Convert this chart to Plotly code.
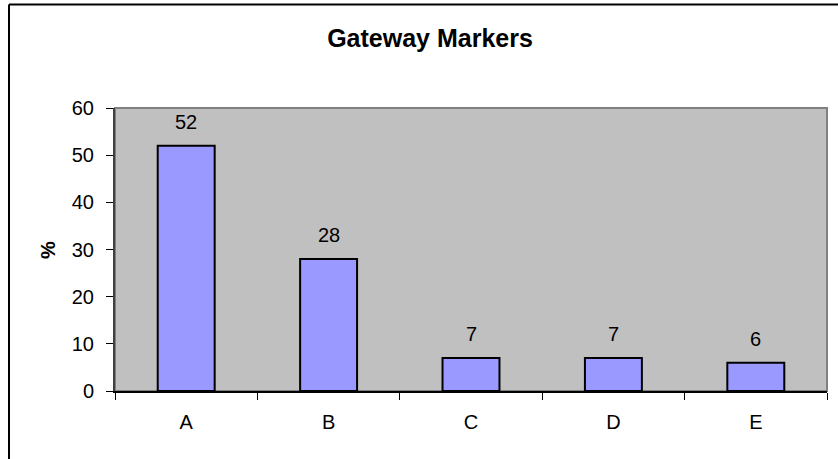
import plotly.graph_objects as go

categories = ["A", "B", "C", "D", "E"]
values = [52, 28, 7, 7, 6]
y_ticks = [0, 10, 20, 30, 40, 50, 60]

W, H = 838, 459
L, R, T, B = 115, 11, 108, 68
pw, ph = W - L - R, H - T - B

def px_x(px):
    return (px - L) / pw

def px_y(py):
    return (H - B - py) / ph

FONT = "Liberation Sans, Arial, sans-serif"

fig = go.Figure()
fig.add_trace(go.Bar(
    x=categories, y=values,
    marker=dict(color="#9999FF", line=dict(color="black", width=2)),
    hoverinfo="skip",
))

annotations = []
for c, v in zip(categories, values):
    annotations.append(dict(x=c, y=v, xref="x", yref="y", text=str(v),
                            showarrow=False, yanchor="bottom", yshift=11,
                            font=dict(family=FONT, size=20, color="black")))
annotations.append(dict(x=px_x(48), y=px_y(250), xref="paper", yref="paper",
                        text="<b>%</b>", textangle=-90, showarrow=False,
                        xanchor="center", yanchor="middle",
                        font=dict(family=FONT, size=20, color="black")))

shapes = [
    dict(type="rect", xref="paper", yref="paper", x0=0, y0=0, x1=1, y1=1,
         line=dict(color="#808080", width=2), layer="below"),
    dict(type="line", xref="paper", yref="paper", x0=px_x(9), x1=px_x(9),
         y0=px_y(4.5), y1=px_y(470), line=dict(color="black", width=2)),
    dict(type="line", xref="paper", yref="paper", x0=px_x(9), x1=px_x(850),
         y0=px_y(4.5), y1=px_y(4.5), line=dict(color="black", width=2)),
]

fig.update_layout(
    width=W, height=H,
    margin=dict(l=L, r=R, t=T, b=B, pad=0),
    paper_bgcolor="white",
    plot_bgcolor="#C0C0C0",
    showlegend=False,
    bargap=0.6,
    title=dict(text="<b>Gateway Markers</b>", x=430 / W, xanchor="center",
               y=1 - 38 / H, yanchor="middle", yref="container",
               font=dict(family=FONT, size=25, color="black")),
    font=dict(family=FONT, size=20, color="black"),
    annotations=annotations,
    shapes=shapes,
)
fig.update_xaxes(
    showgrid=False, zeroline=False,
    showline=True, linecolor="black", linewidth=2,
    ticks="outside", tickson="boundaries", ticklen=7, tickcolor="black", tickwidth=1,
    ticklabelstandoff=12,
    tickfont=dict(family=FONT, size=20, color="black"),
)
fig.update_yaxes(
    range=[0, 60], tickvals=y_ticks,
    showgrid=False, zeroline=False,
    showline=True, linecolor="#404040", linewidth=2,
    ticks="outside", ticklen=7, tickcolor="black", tickwidth=1,
    ticklabelstandoff=8,
    tickfont=dict(family=FONT, size=20, color="black"),
)

fig.write_html("out.html",
               config={"displayModeBar": False, "staticPlot": True},
               post_script="document.body.style.margin='0';document.body.style.overflow='hidden';")
